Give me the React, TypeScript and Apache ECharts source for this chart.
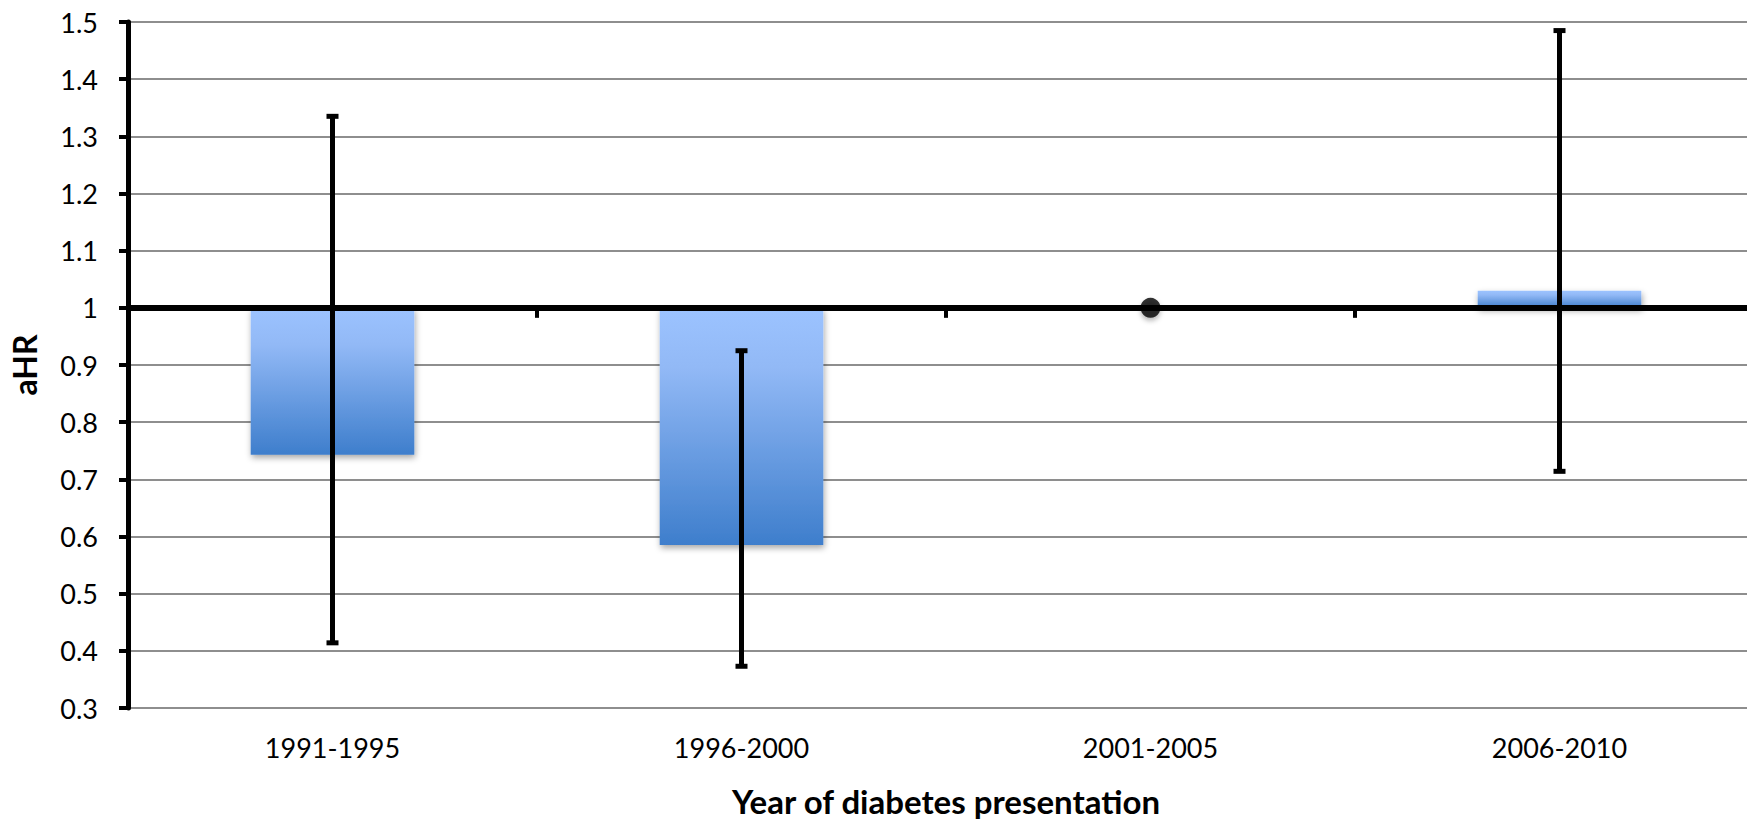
import React, { useEffect, useRef } from "react";
import * as echarts from "echarts";

const categories = ["1991-1995", "1996-2000", "2001-2005", "2006-2010"];
const hrValues = [0.743, 0.585, 1.0, 1.03];
const ciLow = [0.414, 0.373, null, 0.714];
const ciHigh = [1.335, 0.925, null, 1.485];
const referenceIndex = 2;
const baseline = 1;
const yTicks = { min: 0.3, max: 1.5, interval: 0.1 };

const FONT = "Lato, 'Open Sans', sans-serif";

export default function App() {
  const ref = useRef<HTMLDivElement>(null);

  useEffect(() => {
    if (!ref.current) return;
    const chart = echarts.init(ref.current, null, { renderer: "svg" });

    const barData = categories.map((_, i) =>
      i === referenceIndex ? [i, baseline] : [i, hrValues[i]]
    );
    const errData = categories
      .map((_, i) => [i, ciLow[i], ciHigh[i]])
      .filter((d) => d[1] != null);
    const tickData = categories.slice(0, -1).map((_, i) => [i, baseline]);

    const gradient = new echarts.graphic.LinearGradient(0, 0, 0, 1, [
      { offset: 0, color: "#9cc3ff" },
      { offset: 0.25, color: "#92b9f6" },
      { offset: 1, color: "#3e7ecc" },
    ]);

    chart.setOption({
      animation: false,
      backgroundColor: "#ffffff",
      grid: { left: 127, right: 0, top: 22, bottom: 114, containLabel: false },
      xAxis: {
        type: "category",
        data: categories,
        boundaryGap: true,
        axisLine: { show: false },
        axisTick: { show: false },
        axisLabel: { color: "#000", fontSize: 27, fontFamily: FONT, margin: 26 },
        name: "Year of diabetes presentation",
        nameLocation: "middle",
        nameGap: 76,
        nameTextStyle: { color: "#000", fontSize: 33, fontWeight: "bold", fontFamily: FONT },
      },
      yAxis: {
        type: "value",
        min: yTicks.min,
        max: yTicks.max,
        interval: yTicks.interval,
        axisLine: { show: true, lineStyle: { color: "#000", width: 5 } },
        axisTick: { show: true, inside: false, length: 9, lineStyle: { color: "#000", width: 4 } },
        axisLabel: {
          color: "#000",
          fontSize: 27,
          fontFamily: FONT,
          margin: 30,
          formatter: (v: number) => String(Math.round(v * 10) / 10),
        },
        splitLine: { show: true, lineStyle: { color: "#8e8e8e", width: 2 } },
        name: "aHR",
        nameLocation: "middle",
        nameRotate: 90,
        nameGap: 88,
        nameTextStyle: { color: "#000", fontSize: 32, fontWeight: "bold", fontFamily: FONT },
      },
      series: [
        {
          type: "custom",
          name: "bars",
          z: 2,
          data: barData,
          renderItem: (params: any, api: any) => {
            const i = api.value(0);
            const v = api.value(1);
            const p0 = api.coord([i, baseline]);
            const p1 = api.coord([i, v]);
            const w = api.size([1, 0])[0] * 0.4;
            const top = Math.min(p0[1], p1[1]);
            const h = Math.abs(p1[1] - p0[1]);
            if (h < 0.5) return null;
            return {
              type: "rect",
              shape: { x: p0[0] - w / 2, y: top, width: w, height: h },
              style: {
                fill: gradient,
                shadowBlur: 6,
                shadowOffsetY: 3,
                shadowOffsetX: 1,
                shadowColor: "rgba(0,0,0,0.35)",
              },
            };
          },
          markLine: {
            silent: true,
            symbol: ["none", "none"],
            label: { show: false },
            lineStyle: { color: "#000", width: 6, type: "solid" },
            data: [{ yAxis: baseline }],
            z: 3,
          },
        },
        {
          type: "custom",
          name: "baselineTicks",
          z: 4,
          data: tickData,
          renderItem: (params: any, api: any) => {
            const i = api.value(0);
            const p = api.coord([i, api.value(1)]);
            const bw = api.size([1, 0])[0];
            const x = p[0] + bw / 2;
            return {
              type: "line",
              shape: { x1: x, y1: p[1], x2: x, y2: p[1] + 10 },
              style: { stroke: "#000", lineWidth: 4 },
            };
          },
        },
        {
          type: "scatter",
          name: "reference",
          z: 5,
          symbol: "circle",
          symbolSize: 20,
          data: [[referenceIndex, hrValues[referenceIndex]]],
          itemStyle: {
            color: "#000",
            shadowBlur: 5,
            shadowOffsetY: 3,
            shadowColor: "rgba(0,0,0,0.35)",
          },
        },
        {
          type: "custom",
          name: "ci",
          z: 6,
          data: errData,
          renderItem: (params: any, api: any) => {
            const i = api.value(0);
            const lo = api.coord([i, api.value(1)]);
            const hi = api.coord([i, api.value(2)]);
            const x = lo[0];
            const cap = 12;
            return {
              type: "group",
              children: [
                {
                  type: "line",
                  shape: { x1: x, y1: hi[1], x2: x, y2: lo[1] },
                  style: { stroke: "#000", lineWidth: 5 },
                },
                {
                  type: "rect",
                  shape: { x: x - cap / 2, y: hi[1] - 2.5, width: cap, height: 5 },
                  style: { fill: "#000" },
                },
                {
                  type: "rect",
                  shape: { x: x - cap / 2, y: lo[1] - 2.5, width: cap, height: 5 },
                  style: { fill: "#000" },
                },
              ],
            };
          },
        },
      ],
    });

    return () => chart.dispose();
  }, []);

  return (
    <div
      style={{
        width: 1755,
        height: 822,
        marginLeft: -8,
        marginTop: -8,
        overflow: "hidden",
        position: "relative",
      }}
    >
      <div ref={ref} style={{ width: 1764, height: 822 }} />
    </div>
  );
}
